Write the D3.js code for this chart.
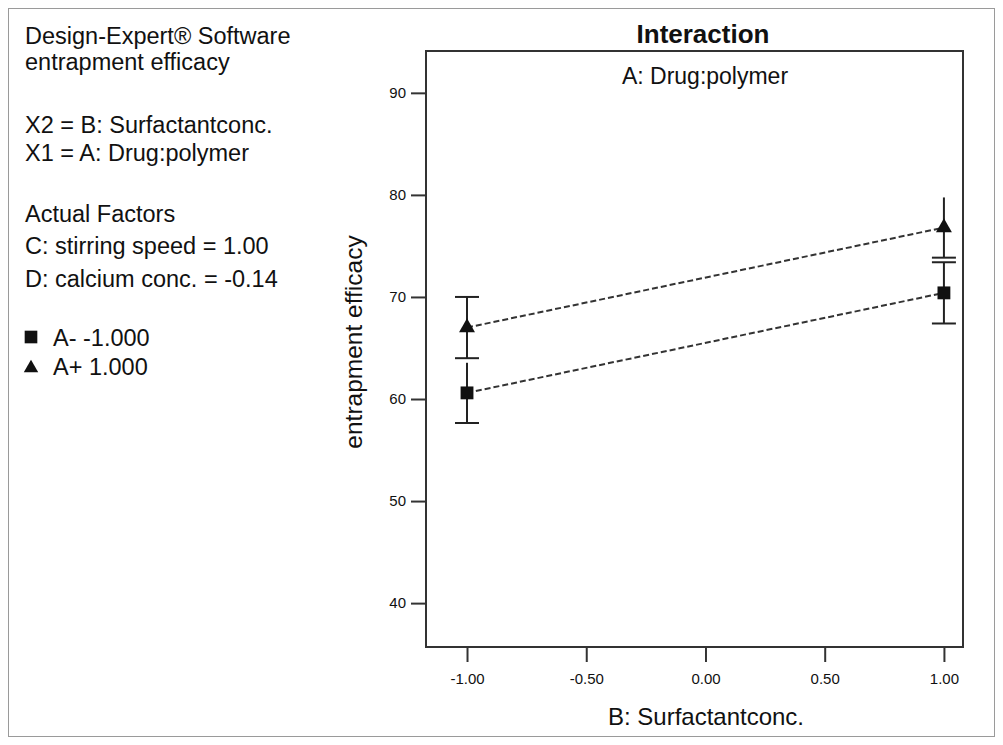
<!DOCTYPE html>
<html><head><meta charset="utf-8">
<script src="https://cdn.jsdelivr.net/npm/d3@7"></script>
<style>
body{margin:0;background:#fff;}
svg{font-family:"Liberation Sans",Arial,Helvetica,sans-serif;}
</style></head>
<body><svg id="c" width="1003" height="745"></svg>
<script>
// ---- data ----
const xLevels = [-1, 1];                 // B: Surfactantconc.
const seriesNames = ["A- -1.000", "A+ 1.000"];
const seriesMarkers = ["square", "triangle"];
const seriesA = [60.6, 70.4];            // A- means
const seriesB = [67.0, 76.8];            // A+ means
const errA = [2.95, 3.0];                // LSD half-width A-
const errB = [3.0, 2.95];                // LSD half-width A+
// which caps are drawn: [top, bottom] per point
const capsA = [[false, true], [true, true]];
const capsB = [[true, true], [false, true]];
const xTicks = [-1, -0.5, 0, 0.5, 1];
const yTicks = [40, 50, 60, 70, 80, 90];
const infoLines = [
  ["Design-Expert® Software", 44],
  ["entrapment efficacy", 70],
  ["X2 = B: Surfactantconc.", 133],
  ["X1 = A: Drug:polymer", 161],
  ["Actual Factors", 222],
  ["C: stirring speed = 1.00", 254],
  ["D: calcium conc. = -0.14", 287]
];

const svg = d3.select("#c");
// outer border
svg.append("rect").attr("x",8.5).attr("y",8.5).attr("width",986).attr("height",728)
  .attr("fill","none").attr("stroke","#9a9a9a").attr("stroke-width",1);

const L=426, T=51, R=963, B=647;
const x = d3.scaleLinear().domain([-1.172, 1.08]).range([L, R]);
const y = d3.scaleLinear().domain([35.7, 94.1]).range([B, T]);
const hy = s => s.replace("\u2212","-");

// frame
svg.append("rect").attr("x",L).attr("y",T).attr("width",R-L).attr("height",B-T)
  .attr("fill","none").attr("stroke","#333").attr("stroke-width",2);

// axes
const yAxis = d3.axisLeft(y).tickValues(yTicks).tickFormat(d3.format("d")).tickSize(15).tickPadding(5);
const gy = svg.append("g").attr("transform",`translate(${L},0)`).call(yAxis);
const xAxis = d3.axisBottom(x).tickValues(xTicks).tickFormat(d=>hy(d3.format(".2f")(d))).tickSize(15).tickPadding(11);
const gx = svg.append("g").attr("transform",`translate(0,${B})`).call(xAxis);
[gx, gy].forEach(g=>{
  g.select(".domain").remove();
  g.selectAll(".tick line").attr("stroke","#333").attr("stroke-width",2);
  g.selectAll(".tick text").attr("fill","#111").style("font-size","15px")
   .style("font-family","'Liberation Sans',Arial,sans-serif");
});

// titles
svg.append("text").attr("x",703).attr("y",43).attr("text-anchor","middle")
  .style("font-size","26px").style("font-weight","bold").attr("fill","#111").text("Interaction");
svg.append("text").attr("x",705).attr("y",84).attr("text-anchor","middle")
  .style("font-size","23px").attr("fill","#111").text("A: Drug:polymer");
svg.append("text").attr("x",706).attr("y",725).attr("text-anchor","middle")
  .style("font-size","24px").attr("fill","#111").text("B: Surfactantconc.");
svg.append("text").attr("transform","translate(362,342) rotate(-90)").attr("text-anchor","middle")
  .style("font-size","24.5px").attr("fill","#111").text("entrapment efficacy");

// info text
svg.append("g").selectAll("text").data(infoLines).join("text")
  .attr("x",25).attr("y",d=>d[1]).style("font-size","23.5px").attr("fill","#111").text(d=>d[0]);

// series
const series = [
  {vals: seriesA, err: errA, caps: capsA, marker: seriesMarkers[0]},
  {vals: seriesB, err: errB, caps: capsB, marker: seriesMarkers[1]}
];
const capW = 12;
const line = d3.line().x((d,i)=>x(xLevels[i])).y(d=>y(d));
series.forEach(s=>{
  // error bars
  s.vals.forEach((v,i)=>{
    const cx = x(xLevels[i]);
    const g = svg.append("g").attr("stroke","#222").attr("stroke-width",2);
    g.append("line").attr("x1",cx).attr("x2",cx).attr("y1",y(v+s.err[i])).attr("y2",y(v-s.err[i]));
    if (s.caps[i][0]) g.append("line").attr("x1",cx-capW).attr("x2",cx+capW).attr("y1",y(v+s.err[i])).attr("y2",y(v+s.err[i]));
    if (s.caps[i][1]) g.append("line").attr("x1",cx-capW).attr("x2",cx+capW).attr("y1",y(v-s.err[i])).attr("y2",y(v-s.err[i]));
  });
  svg.append("path").datum(s.vals).attr("d",line).attr("fill","none")
    .attr("stroke","#333").attr("stroke-width",2).attr("stroke-dasharray","6,3");
  const sym = s.marker==="square" ? d3.symbolSquare : d3.symbolTriangle;
  const size = s.marker==="square" ? 165 : 110;
  svg.append("g").selectAll("path").data(s.vals).join("path")
    .attr("transform",(d,i)=>`translate(${x(xLevels[i])},${y(d)})`)
    .attr("d",d3.symbol(sym,size)).attr("fill","#111");
});

// legend
const legY = [337, 368];
const legText = [346, 375];
seriesNames.forEach((n,i)=>{
  const sym = seriesMarkers[i]==="square" ? d3.symbolSquare : d3.symbolTriangle;
  const size = seriesMarkers[i]==="square" ? 160 : 90;
  svg.append("path").attr("transform",`translate(31,${legY[i]})`).attr("d",d3.symbol(sym,size)).attr("fill","#111");
  svg.append("text").attr("x",53).attr("y",legText[i]).style("font-size","23.5px").attr("fill","#111").text(n);
});
</script></body></html>
